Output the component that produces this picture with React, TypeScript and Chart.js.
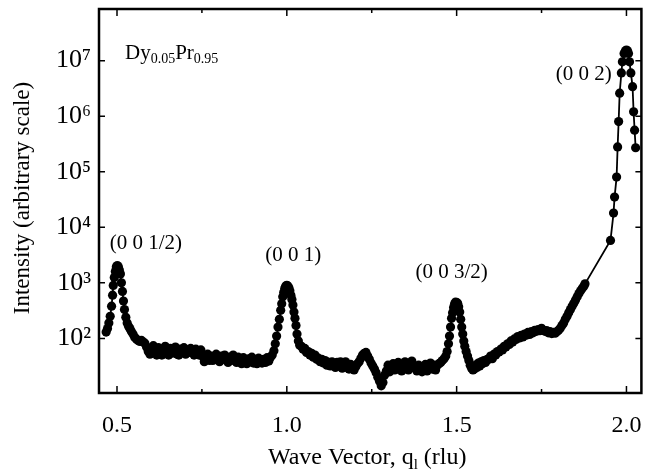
import React, { useEffect, useRef } from "react";
import { Chart, registerables } from "chart.js";

Chart.register(...registerables);

// ---- data ----
const qValues: number[] = [
  0.468, 0.472, 0.476, 0.480, 0.484, 0.487, 0.489, 0.492, 0.495, 0.498,
  0.501, 0.504, 0.507, 0.510, 0.513, 0.516, 0.519, 0.522, 0.526, 0.530,
  0.534, 0.538, 0.542, 0.547, 0.552, 0.557, 0.562, 0.567, 0.572, 0.577,
  0.582, 0.587, 0.592, 0.597, 0.602, 0.607, 0.612, 0.617, 0.622, 0.627,
  0.632, 0.637, 0.642, 0.647, 0.652, 0.657, 0.662, 0.667, 0.672, 0.677,
  0.682, 0.687, 0.692, 0.697, 0.702, 0.707, 0.712, 0.717, 0.722, 0.727,
  0.732, 0.737, 0.742, 0.747, 0.752, 0.757, 0.762, 0.767, 0.772, 0.777,
  0.782, 0.787, 0.792, 0.797, 0.802, 0.807, 0.812, 0.817, 0.822, 0.827,
  0.832, 0.837, 0.842, 0.847, 0.852, 0.857, 0.862, 0.867, 0.872, 0.877,
  0.882, 0.887, 0.892, 0.897, 0.902, 0.907, 0.912, 0.917, 0.922, 0.927,
  0.932, 0.937, 0.942, 0.947, 0.952, 0.957, 0.962, 0.966, 0.970, 0.974,
  0.978, 0.982, 0.985, 0.988, 0.991, 0.994, 0.997, 1.000, 1.003, 1.006,
  1.009, 1.012, 1.015, 1.018, 1.021, 1.024, 1.027, 1.030, 1.034, 1.038,
  1.043, 1.048, 1.053, 1.058, 1.063, 1.068, 1.073, 1.078, 1.083, 1.088,
  1.093, 1.098, 1.103, 1.108, 1.113, 1.118, 1.123, 1.128, 1.133, 1.138,
  1.143, 1.148, 1.153, 1.158, 1.163, 1.168, 1.173, 1.178, 1.183, 1.188,
  1.193, 1.198, 1.203, 1.208, 1.213, 1.218, 1.223, 1.228, 1.233, 1.238,
  1.243, 1.248, 1.253, 1.258, 1.263, 1.268, 1.273, 1.278, 1.283, 1.288,
  1.293, 1.298, 1.303, 1.308, 1.313, 1.318, 1.323, 1.328, 1.333, 1.338,
  1.343, 1.348, 1.353, 1.358, 1.363, 1.368, 1.373, 1.378, 1.383, 1.388,
  1.393, 1.398, 1.403, 1.408, 1.413, 1.418, 1.423, 1.428, 1.433, 1.438,
  1.443, 1.448, 1.453, 1.458, 1.463, 1.468, 1.472, 1.476, 1.479, 1.482,
  1.485, 1.488, 1.491, 1.494, 1.497, 1.500, 1.503, 1.506, 1.509, 1.512,
  1.515, 1.518, 1.521, 1.524, 1.528, 1.532, 1.536, 1.540, 1.544, 1.548,
  1.552, 1.556, 1.560, 1.564, 1.568, 1.572, 1.576, 1.580, 1.585, 1.590,
  1.595, 1.600, 1.605, 1.610, 1.615, 1.620, 1.625, 1.630, 1.635, 1.640,
  1.645, 1.650, 1.655, 1.660, 1.665, 1.670, 1.675, 1.680, 1.685, 1.690,
  1.695, 1.700, 1.705, 1.710, 1.715, 1.720, 1.725, 1.730, 1.735, 1.740,
  1.745, 1.750, 1.755, 1.760, 1.765, 1.770, 1.775, 1.780, 1.785, 1.790,
  1.795, 1.800, 1.805, 1.810, 1.815, 1.820, 1.825, 1.830, 1.835, 1.840,
  1.845, 1.850, 1.855, 1.860, 1.865, 1.870, 1.875, 1.878,
  1.953, 1.962, 1.965, 1.971, 1.974, 1.977, 1.980, 1.985, 1.988, 1.993,
  1.997, 2.000, 2.003, 2.006, 2.009, 2.013, 2.018, 2.021, 2.024, 2.027,
];

const intensity: number[] = [
  130, 150, 190, 250, 380, 600, 900, 1250, 1600, 1950,
  2050, 1950, 1700, 1450, 1000, 700, 470, 330, 240, 190,
  165, 150, 135, 120, 105, 98, 92, 88, 92, 86,
  82, 70, 58, 52, 66, 74, 56, 50, 68, 60,
  50, 64, 72, 56, 50, 66, 54, 62, 70, 52,
  50, 64, 56, 68, 52, 62, 56, 66, 58, 50,
  64, 54, 50, 62, 48, 38, 46, 52, 40, 48,
  40, 46, 52, 42, 38, 48, 42, 50, 44, 37,
  46, 40, 50, 42, 37, 46, 40, 35, 45, 39,
  35, 43, 38, 46, 36, 42, 35, 44, 40, 36,
  42, 37, 45, 39, 46, 50, 60, 80, 110, 160,
  220, 320, 420, 560, 680, 800, 880, 900, 880, 820,
  720, 600, 500, 400, 300, 230, 170, 120, 90, 75,
  72, 64, 66, 56, 58, 50, 54, 46, 50, 42,
  44, 38, 42, 36, 40, 33, 37, 32, 38, 33,
  30, 37, 32, 38, 29, 35, 38, 30, 28, 34,
  30, 27, 31, 35, 38, 44, 50, 54, 56, 48,
  42, 36, 32, 28, 24, 20, 17, 14, 16, 22,
  26, 33, 25, 31, 35, 27, 33, 37, 29, 26,
  34, 38, 30, 27, 35, 39, 32, 29, 26, 33,
  30, 25, 29, 34, 26, 32, 36, 28, 33, 27,
  33, 35, 37, 40, 43, 48, 58, 80, 110, 160,
  230, 290, 360, 420, 450, 440, 430, 370, 300, 220,
  160, 120, 90, 72, 58, 48, 40, 33, 29, 27,
  28, 33, 30, 36, 32, 38, 35, 40, 37, 42,
  42, 48, 43, 52, 50, 58, 57, 64, 62, 72,
  70, 80, 78, 90, 86, 98, 96, 108, 102, 114,
  106, 120, 114, 128, 118, 132, 126, 140, 134, 144,
  138, 152, 140, 134, 138, 126, 132, 122, 128, 124,
  132, 140, 152, 170, 190, 220, 250, 290, 330, 380,
  430, 490, 560, 640, 720, 800, 880, 960,
  5800, 18000, 35000, 80000, 280000, 800000, 2600000, 6000000, 9500000, 13500000,
  15000000, 15500000, 15000000, 13500000, 9500000, 6000000, 3400000, 1200000, 560000, 270000,
];

const xMajorTicks = [0.5, 1.0, 1.5, 2.0];
const xMinorTicks = [0.75, 1.25, 1.75];
const yTicks = [1e2, 1e3, 1e4, 1e5, 1e6, 1e7];

const peakLabels = ["(0 0 1/2)", "(0 0 1)", "(0 0 3/2)", "(0 0 2)"];
const peakLabelQ = [0.585, 1.019, 1.485, 1.874];
const peakLabelI = [5150, 3160, 1550, 5600000];

const SERIF = "'Liberation Serif', 'Times New Roman', 'DejaVu Serif', serif";
const SUP = "⁰¹²³⁴⁵⁶⁷⁸⁹";

function drawParts(
  ctx: CanvasRenderingContext2D,
  parts: [string, boolean][],
  x: number,
  y: number,
  size: number,
  subSize: number,
  subShift: number,
  align: "left" | "center"
) {
  ctx.textBaseline = "alphabetic";
  ctx.textAlign = "left";
  let total = 0;
  for (const [t, sub] of parts) {
    ctx.font = `${sub ? subSize : size}px ${SERIF}`;
    total += ctx.measureText(t).width;
  }
  let cx = align === "center" ? x - total / 2 : x;
  for (const [t, sub] of parts) {
    ctx.font = `${sub ? subSize : size}px ${SERIF}`;
    ctx.fillText(t, cx, sub ? y + subShift : y);
    cx += ctx.measureText(t).width;
  }
}

const framePlugin = {
  id: "framePlugin",
  afterDraw(chart: any) {
    const { ctx, chartArea } = chart;
    const { left, right, top, bottom } = chartArea;
    const xs = chart.scales.x;
    const ys = chart.scales.y;
    ctx.save();
    ctx.strokeStyle = "#000";
    ctx.fillStyle = "#000";
    // frame
    ctx.lineWidth = 2.5;
    ctx.strokeRect(left, top, right - left, bottom - top);
    // inward ticks
    ctx.lineWidth = 1.5;
    ctx.beginPath();
    for (const v of xMajorTicks) {
      const px = xs.getPixelForValue(v);
      ctx.moveTo(px, bottom);
      ctx.lineTo(px, bottom - 7);
      ctx.moveTo(px, top);
      ctx.lineTo(px, top + 7);
    }
    for (const v of xMinorTicks) {
      const px = xs.getPixelForValue(v);
      ctx.moveTo(px, bottom);
      ctx.lineTo(px, bottom - 4);
      ctx.moveTo(px, top);
      ctx.lineTo(px, top + 4);
    }
    for (const v of yTicks) {
      const py = ys.getPixelForValue(v);
      ctx.moveTo(left, py);
      ctx.lineTo(left + 6, py);
      ctx.moveTo(right, py);
      ctx.lineTo(right - 6, py);
    }
    ctx.stroke();

    // peak annotations
    ctx.font = `21px ${SERIF}`;
    ctx.textAlign = "center";
    ctx.textBaseline = "middle";
    peakLabels.forEach((t, i) => {
      ctx.fillText(t, xs.getPixelForValue(peakLabelQ[i]), ys.getPixelForValue(peakLabelI[i]));
    });

    // sample label
    drawParts(
      ctx,
      [["Dy", false], ["0.05", true], ["Pr", false], ["0.95", true]],
      left + 26,
      top + 50,
      21,
      14,
      4,
      "left"
    );

    // x axis title
    drawParts(
      ctx,
      [["Wave Vector, q", false], ["l", true], [" (rlu)", false]],
      (left + right) / 2 - 3,
      464,
      24,
      15,
      5,
      "center"
    );

    // y axis title
    ctx.save();
    ctx.translate(23, (top + bottom) / 2 - 3);
    ctx.rotate(-Math.PI / 2);
    ctx.font = `23px ${SERIF}`;
    ctx.textAlign = "center";
    ctx.textBaseline = "middle";
    ctx.fillText("Intensity (arbitrary scale)", 0, 0);
    ctx.restore();

    ctx.restore();
  },
};

function zeroPadding(scale: any) {
  scale.paddingTop = 0;
  scale.paddingBottom = 0;
  scale.paddingLeft = 0;
  scale.paddingRight = 0;
}

export default function App() {
  const ref = useRef<HTMLCanvasElement | null>(null);

  useEffect(() => {
    document.body.style.margin = "0";
    const canvas = ref.current;
    if (!canvas) return;
    const chart = new Chart(canvas, {
      type: "scatter",
      data: {
        datasets: [
          {
            data: qValues.map((q, i) => ({ x: q, y: intensity[i] })),
            showLine: true,
            borderColor: "#000",
            borderWidth: 1.8,
            pointRadius: 4.6,
            pointBackgroundColor: "#000",
            pointBorderColor: "#000",
            pointBorderWidth: 0,
          },
        ],
      },
      options: {
        animation: false,
        responsive: false,
        devicePixelRatio: 1,
        layout: { padding: { top: 9, right: 2, left: 0, bottom: 0 } },
        plugins: {
          legend: { display: false },
          tooltip: { enabled: false },
        },
        scales: {
          x: {
            type: "linear",
            min: 0.447,
            max: 2.044,
            afterBuildTicks: (scale: any) => {
              scale.ticks = xMajorTicks.map((v) => ({ value: v }));
            },
            afterFit: (scale: any) => {
              scale.height = 83;
              zeroPadding(scale);
            },
            grid: { display: false, drawTicks: false },
            border: { display: false },
            ticks: {
              autoSkip: false,
              maxRotation: 0,
              padding: 18,
              color: "#000",
              font: { family: SERIF, size: 24 },
              callback: (v: any) => Number(v).toFixed(1),
            },
          },
          y: {
            type: "logarithmic",
            min: 10.4,
            max: 8.5e7,
            afterBuildTicks: (scale: any) => {
              scale.ticks = yTicks.map((v) => ({ value: v }));
            },
            afterFit: (scale: any) => {
              scale.width = 99;
              zeroPadding(scale);
            },
            grid: { display: false, drawTicks: false },
            border: { display: false },
            ticks: {
              autoSkip: false,
              padding: 8,
              color: "#000",
              font: { family: SERIF, size: 26 },
              callback: (v: any) => {
                const e = Math.round(Math.log10(Number(v)));
                return "10" + String(e).split("").map((d) => SUP[Number(d)]).join("");
              },
            },
          },
        },
      },
      plugins: [framePlugin],
    });
    return () => chart.destroy();
  }, []);

  return (
    <div style={{ position: "fixed", left: 0, top: 0, width: 646, height: 476, background: "#fff" }}>
      <canvas ref={ref} width={646} height={476} style={{ width: 646, height: 476, display: "block" }} />
    </div>
  );
}
